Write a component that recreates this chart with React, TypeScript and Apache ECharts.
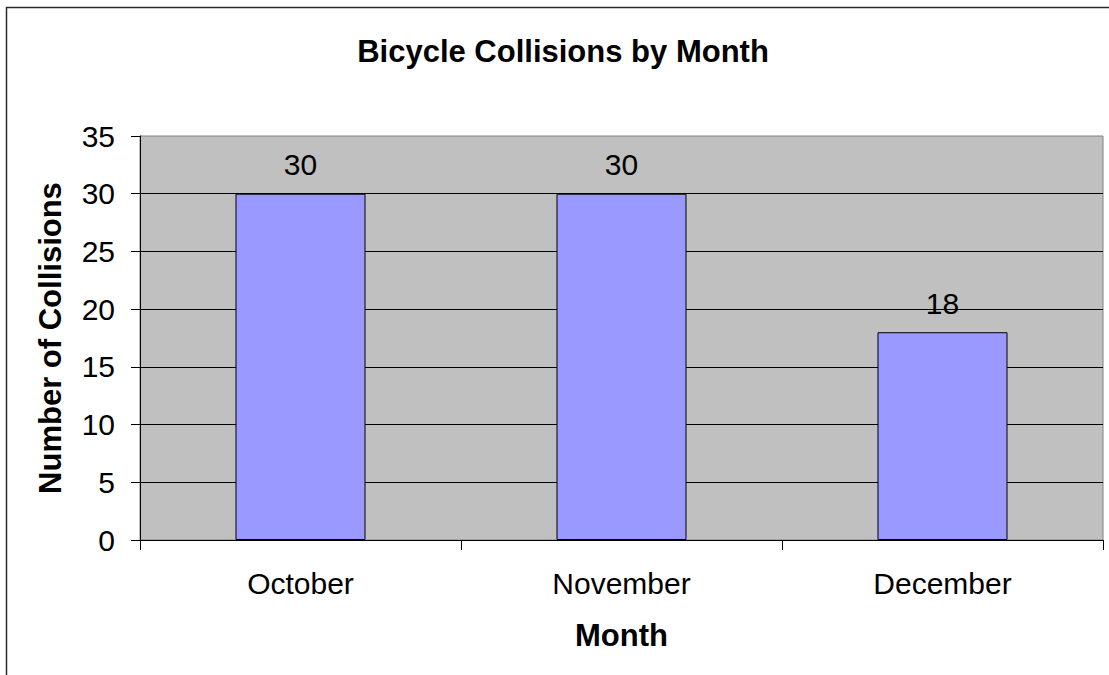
import React, { useEffect, useRef } from "react";
import * as echarts from "echarts";

const categories = ["October", "November", "December"];
const collisions = [30, 30, 18];
const titleText = "Bicycle Collisions by Month";
const xAxisTitle = "Month";
const yAxisTitle = "Number of Collisions";

const FONT = "'Liberation Sans', Arial, sans-serif";

export default function App() {
  const ref = useRef<HTMLDivElement>(null);
  useEffect(() => {
    if (!ref.current) return;
    const chart = echarts.init(ref.current, null, { renderer: "svg" });
    chart.setOption({
      animation: false,
      backgroundColor: "#ffffff",
      textStyle: { fontFamily: FONT },
      title: {
        text: titleText,
        left: 563,
        top: 36,
        textAlign: "center",
        padding: 0,
        textStyle: { fontFamily: FONT, fontSize: 31, fontWeight: "bold", color: "#000" },
      },
      graphic: [
        {
          type: "rect",
          shape: { x: 6.5, y: 7.5, width: 1300, height: 1000 },
          style: { fill: "none", stroke: "#2a2a2a", lineWidth: 1.5 },
          silent: true,
          z: -1,
        },
      ],
      grid: {
        left: 140,
        top: 136,
        right: 6,
        bottom: 135,
        show: true,
        backgroundColor: "#C0C0C0",
        borderColor: "#808080",
        borderWidth: 1,
      },
      xAxis: {
        type: "category",
        data: categories,
        name: xAxisTitle,
        nameLocation: "middle",
        nameGap: 80,
        nameTextStyle: { fontFamily: FONT, fontSize: 31, fontWeight: "bold", color: "#000" },
        axisLine: { show: true, lineStyle: { color: "#000", width: 1 } },
        axisTick: { show: true, length: 10, lineStyle: { color: "#000" } },
        axisLabel: { fontFamily: FONT, fontSize: 30, color: "#000", margin: 28 },
        splitLine: { show: false },
      },
      yAxis: {
        type: "value",
        min: 0,
        max: 35,
        interval: 5,
        name: yAxisTitle,
        nameLocation: "middle",
        nameGap: 74,
        nameTextStyle: { fontFamily: FONT, fontSize: 31, fontWeight: "bold", color: "#000" },
        axisLine: { show: true, lineStyle: { color: "#000", width: 1 } },
        axisTick: { show: true, length: 9, lineStyle: { color: "#000" } },
        axisLabel: { fontFamily: FONT, fontSize: 30, color: "#000", margin: 25 },
        splitLine: { show: true, showMaxLine: false, lineStyle: { color: "#000", width: 1 } },
      },
      series: [
        {
          type: "bar",
          data: collisions,
          barWidth: "40.5%",
          itemStyle: { color: "#9999FF", borderColor: "#000", borderWidth: 1 },
          label: {
            show: true,
            position: "top",
            distance: 14,
            fontFamily: FONT,
            fontSize: 30,
            color: "#000",
          },
        },
      ],
    });
    return () => chart.dispose();
  }, []);
  return (
    <div
      ref={ref}
      style={{ position: "absolute", left: 0, top: 0, width: 1109, height: 675 }}
    />
  );
}
